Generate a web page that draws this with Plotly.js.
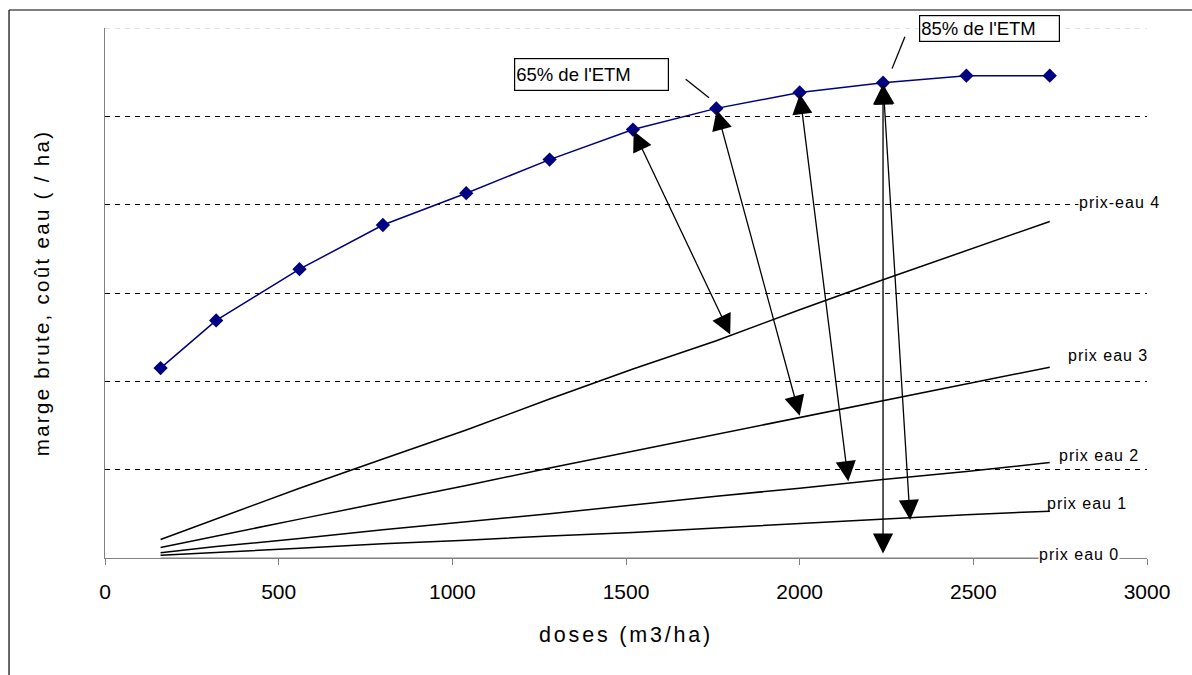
<!DOCTYPE html>
<html>
<head>
<meta charset="utf-8">
<script src="https://cdn.plot.ly/plotly-3.0.1.min.js"></script>
<style>
  html, body { margin: 0; padding: 0; background: #fff; }
  #chart { width: 1192px; height: 675px; }
  .xtitle { letter-spacing: 2.8px; }
  .ytitle { letter-spacing: 2.3px; }
</style>
</head>
<body>
<div id="chart"></div>
<script>
// ---- data ----
const doses      = [160, 320, 560, 800, 1040, 1280, 1520, 1760, 2000, 2240, 2480, 2720];
const margeBrute = [2.15, 2.69, 3.27, 3.77, 4.13, 4.51, 4.85, 5.09, 5.27, 5.38, 5.46, 5.46];
const prixEau4   = [0.21, 0.44, 0.79, 1.12, 1.45, 1.80, 2.14, 2.46, 2.81, 3.15, 3.48, 3.81];
const prixEau3   = [0.12, 0.25, 0.44, 0.63, 0.82, 1.02, 1.21, 1.40, 1.59, 1.78, 1.97, 2.16];
const prixEau2   = [0.06, 0.13, 0.22, 0.32, 0.41, 0.50, 0.60, 0.70, 0.79, 0.89, 0.98, 1.08];
const prixEau1   = [0.03, 0.06, 0.11, 0.16, 0.20, 0.25, 0.29, 0.34, 0.39, 0.44, 0.49, 0.53];
const prixEau0   = [0, 0, 0, 0, 0, 0, 0, 0, 0, 0, 0, 0];
const seriesNames = ['prix eau 0', 'prix eau 1', 'prix eau 2', 'prix eau 3', 'prix-eau 4'];

// arrows: start at a point of the margin curve, end on a cost line
const arrowFromIndex = [6, 7, 8, 9, 9];
const arrowToX       = [1800, 2000, 2140, 2240, 2318];
const arrowToY       = [2.53, 1.61, 0.87, 0.05, 0.43];

// call-out labels (box top-left corner: x in data units, y in paper units)
const calloutText = ["65% de l'ETM", "85% de l'ETM"];
const calloutBoxX = [1178, 2344];
const calloutBoxY = [0.9434, 1.0245];
const calloutLeader = [[1672, 5.42, 1739, 5.21], [2303, 5.90, 2266, 5.54]];

// positions of series labels
const labelX = [2686, 2709, 2744, 2770, 2801];
const labelY = [0.035, 0.62, 1.155, 2.29, 4.02];

const FONT = 'Arial, "Liberation Sans", sans-serif';

const costSeries = [prixEau0, prixEau1, prixEau2, prixEau3, prixEau4];
const traces = costSeries.map((ys, i) => ({
  x: doses, y: ys, type: 'scatter', mode: 'lines', name: seriesNames[i],
  line: { color: i === 0 ? '#808080' : '#000000', width: i === 0 ? 1 : 1.5 },
  hoverinfo: 'x+y'
}));
traces.push({
  x: doses, y: margeBrute, type: 'scatter', mode: 'lines+markers', name: 'marge brute',
  line: { color: '#000080', width: 1.5 },
  marker: { symbol: 'diamond', size: 11, color: '#000080' }
});

const annotations = [];
arrowFromIndex.forEach((idx, k) => {
  annotations.push({
    x: arrowToX[k], y: arrowToY[k], xref: 'x', yref: 'y',
    ax: doses[idx], ay: margeBrute[idx], axref: 'x', ayref: 'y',
    text: '', showarrow: true, arrowside: 'end+start',
    arrowhead: 2, startarrowhead: 2, arrowsize: 3.1, startarrowsize: 3.1,
    arrowwidth: 1.3, arrowcolor: '#000', standoff: 0, startstandoff: 0
  });
});
calloutText.forEach((t, k) => {
  annotations.push({
    x: calloutBoxX[k], y: calloutBoxY[k], xref: 'x', yref: 'paper',
    xanchor: 'left', yanchor: 'top', text: t, showarrow: false,
    align: 'left', valign: 'middle',
    width: k === 0 ? 151 : 137, height: k === 0 ? 29 : 23,
    bgcolor: '#fff', bordercolor: '#000', borderwidth: 1.2, borderpad: 1,
    font: { family: FONT, size: 18.5, color: '#000' }
  });
});
seriesNames.forEach((t, k) => {
  annotations.push({
    x: labelX[k], y: labelY[k], xref: 'x', yref: 'y',
    xanchor: 'left', yanchor: 'middle', showarrow: false,
    text: '<span style="letter-spacing:1px">' + t + '</span>',
    bgcolor: k === 0 || k === 4 ? '#fff' : 'rgba(0,0,0,0)', borderpad: 0,
    font: { family: FONT, size: 16, color: '#000' }
  });
});

const shapes = calloutLeader.map(s => ({
  type: 'line', xref: 'x', yref: 'y', x0: s[0], y0: s[1], x1: s[2], y1: s[3],
  line: { color: '#000', width: 1.3 }
}));
// faint top gridline
shapes.push({ type: 'line', xref: 'paper', yref: 'y', x0: 0, x1: 1, y0: 6, y1: 6, layer: 'below',
  line: { color: '#c8c8c8', width: 1, dash: '5px,5px' } });
// outer frame (left and top edges visible)
shapes.push({ type: 'line', xref: 'paper', yref: 'paper', x0: -0.0921, y0: -0.25, x1: -0.0921, y1: 1.034, line: { color: '#000', width: 1.2 } });
shapes.push({ type: 'line', xref: 'paper', yref: 'paper', x0: -0.0921, y0: 1.034, x1: 1.06, y1: 1.034, line: { color: '#000', width: 1.2 } });

const layout = {
  width: 1192, height: 675,
  margin: { l: 105, r: 45, t: 28, b: 117 },
  paper_bgcolor: '#fff', plot_bgcolor: '#fff',
  showlegend: false,
  font: { family: FONT, color: '#000' },
  xaxis: {
    range: [0, 3000], dtick: 500, tick0: 0,
    ticks: 'outside', ticklen: 6, tickcolor: '#808080', tickwidth: 1,
    ticklabelstandoff: 9,
    showline: true, linecolor: '#808080', linewidth: 1,
    showgrid: false, zeroline: false,
    tickfont: { family: FONT, size: 21, color: '#000' },
    title: { text: 'doses (m3/ha)', font: { family: FONT, size: 21.5, color: '#000' }, standoff: 24 }
  },
  yaxis: {
    range: [0, 6], dtick: 1, tick0: 0,
    showticklabels: false, ticks: '',
    showline: true, linecolor: '#808080', linewidth: 1,
    showgrid: true, gridcolor: '#000', gridwidth: 1, griddash: '5px,5px',
    zeroline: false,
    title: { text: 'marge brute, coût eau ( / ha)', font: { family: FONT, size: 20.5, color: '#000' }, standoff: 48 }
  },
  annotations: annotations,
  shapes: shapes
};

Plotly.newPlot('chart', traces, layout, { staticPlot: true });
</script>
</body>
</html>
